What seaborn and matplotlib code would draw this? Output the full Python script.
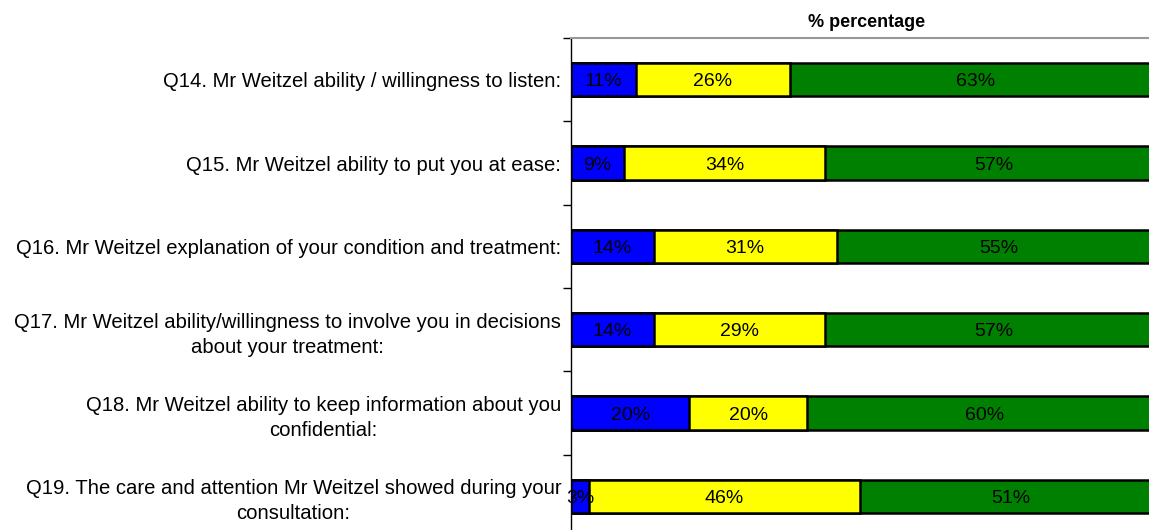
import numpy as np
import pandas as pd
import matplotlib
matplotlib.use("Agg")
import matplotlib.pyplot as plt
import seaborn as sns

# survey questions and answer shares (%)
questions = [
    "Q14. Mr Weitzel ability / willingness to listen:",
    "Q15. Mr Weitzel ability to put you at ease:",
    "Q16. Mr Weitzel explanation of your condition and treatment:",
    "Q17. Mr Weitzel ability/willingness to involve you in decisions\nabout your treatment:",
    "Q18. Mr Weitzel ability to keep information about you\nconfidential:",
    "Q19. The care and attention Mr Weitzel showed during your\nconsultation:",
]
blue_vals = [11, 9, 14, 14, 20, 3]
yellow_vals = [26, 34, 31, 29, 20, 46]
green_vals = [63, 57, 55, 57, 60, 51]

colors = ["#0000FF", "#FFFF00", "#008000"]

sns.set_style("white")
plt.rcParams["font.family"] = ["Liberation Sans", "DejaVu Sans"]
plt.rcParams["text.color"] = "black"
plt.rcParams["ytick.labelcolor"] = "black"

df = pd.DataFrame({"q": questions, "blue": blue_vals,
                   "yellow": yellow_vals, "green": green_vals})
df["c1"] = df["blue"]
df["c2"] = df["blue"] + df["yellow"]
df["c3"] = df["c2"] + df["green"]

fig = plt.figure(figsize=(11.49, 5.30), dpi=100)
ax = fig.add_axes([0.497, -0.015, 0.514, 0.943])

# stacked bars: draw cumulative totals from largest to smallest
for col, color in zip(["c3", "c2", "c1"], colors[::-1]):
    sns.barplot(data=df, x=col, y="q", orient="h", color=color,
                width=0.4, edgecolor="black", linewidth=1.8,
                saturation=1, ax=ax)

# percentage labels in segment centres
for i, row in df.iterrows():
    starts = [0, row["c1"], row["c2"]]
    for s, v in zip(starts, [row["blue"], row["yellow"], row["green"]]):
        ax.text(s + v / 2, i, f"{v}%", ha="center", va="center_baseline",
                fontsize=14, color="black")

ax.set_xlim(0, 100)
ax.set_ylim(5.5, -0.5)
ax.set_xlabel("")
ax.set_ylabel("")
ax.set_xticks([])
ax.set_title("% percentage", fontsize=13, fontweight="bold", pad=8,
             color="black")

ax.tick_params(axis="y", which="major", length=0, pad=7, labelsize=14.6,
               labelcolor="black")
ax.set_yticks(np.arange(-0.5, 6.0, 1.0), minor=True)
ax.tick_params(axis="y", which="minor", length=6, width=1, color="black",
               direction="out", left=True)
for lbl in ax.get_yticklabels():
    lbl.set_multialignment("center")
    lbl.set_linespacing(1.4)

ax.spines["left"].set_color("black")
ax.spines["left"].set_linewidth(1)
ax.spines["top"].set_visible(True)
ax.spines["top"].set_color("#999999")
ax.spines["top"].set_linewidth(1.5)
ax.spines["right"].set_visible(False)
ax.spines["bottom"].set_visible(False)

fig.savefig("out.png", dpi=100)
